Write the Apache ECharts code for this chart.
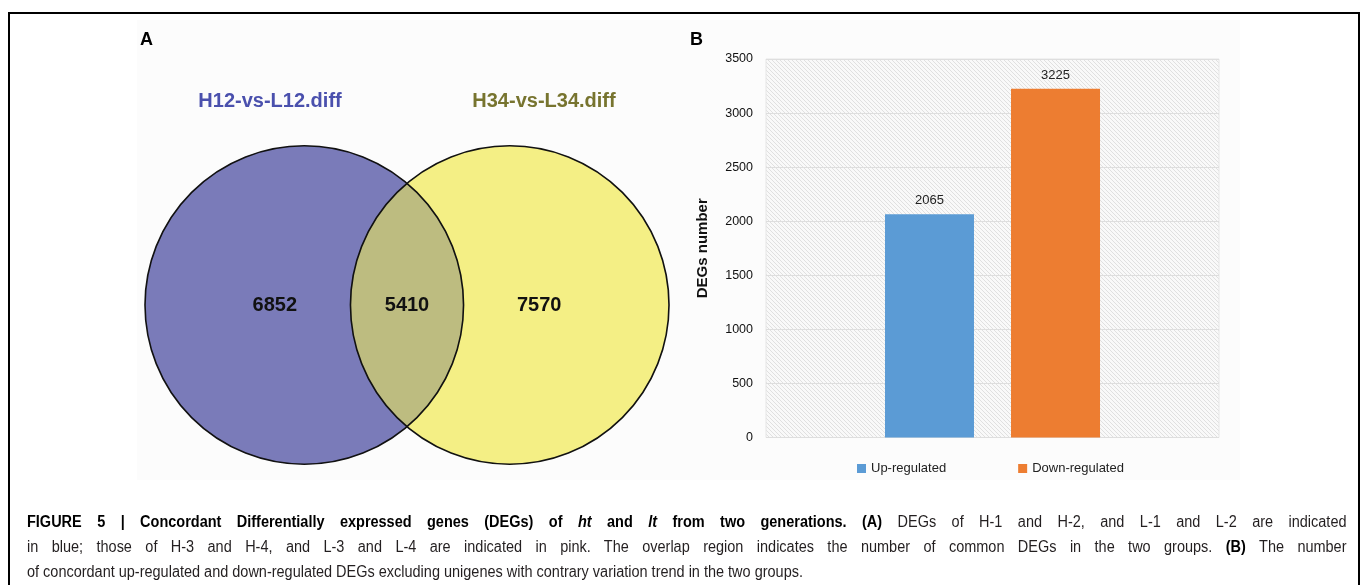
<!DOCTYPE html>
<html>
<head>
<meta charset="utf-8">
<script src="https://cdn.jsdelivr.net/npm/echarts@6/dist/echarts.min.js"></script>
<style>
  html, body { margin:0; padding:0; background:#fff; }
  #wrap { position:relative; width:1360px; height:585px; overflow:hidden; }
  #chart { position:absolute; left:0; top:0; width:1360px; height:585px; }
  #frame { position:absolute; left:8px; top:12px; width:1352px; height:620px; border:2px solid #000; box-sizing:border-box; pointer-events:none; }
  #cap { position:absolute; left:27px; top:509px; width:1458px; transform:scaleX(0.905); transform-origin:0 0; font-family:"Liberation Sans", Arial, Helvetica, sans-serif; font-size:16px; line-height:25px; color:#231f20; }
  #cap .l { white-space:nowrap; }
  #cap .j { text-align:justify; text-align-last:justify; }
  #cap b { font-weight:bold; color:#000; }
</style>
</head>
<body>
<div id="wrap">
  <div id="chart"></div>
  <div id="frame"></div>
  <div id="cap">
    <div class="l j"><b>FIGURE 5 | Concordant Differentially expressed genes (DEGs) of <i>ht</i> and <i>lt</i> from two generations. (A)</b> DEGs of H-1 and H-2, and L-1 and L-2 are indicated</div>
    <div class="l j">in blue; those of H-3 and H-4, and L-3 and L-4 are indicated in pink. The overlap region indicates the number of common DEGs in the two groups. <b>(B)</b> The number</div>
    <div class="l">of concordant up-regulated and down-regulated DEGs excluding unigenes with contrary variation trend in the two groups.</div>
  </div>
</div>
<script>
// ---- Data ----
const vennSetNames = ['H12-vs-L12.diff', 'H34-vs-L34.diff'];
const vennCounts = [6852, 5410, 7570]; // only set 1, both, only set 2

const barCategories = [''];
const barSeriesNames = ['Up-regulated', 'Down-regulated'];
const upValues = [2065];
const downValues = [3225];
const yTickMin = 0, yTickMax = 3500, yTickStep = 500;

// ---- Venn layout (unit-radius circles) ----
const centerDist = 1.29;
const countOffset = 0.83;
const nameOffset = 0.86;
const nameY = 1.285;

// hatch pattern for bar plot background
function hatch() {
  const c = document.createElement('canvas');
  const s = 4;
  c.width = s; c.height = s;
  const g = c.getContext('2d');
  g.fillStyle = '#f9f9f9';
  g.fillRect(0, 0, s, s);
  g.strokeStyle = '#e0e0e0';
  g.lineWidth = 1;
  g.beginPath();
  g.moveTo(-1, -1); g.lineTo(s + 1, s + 1);
  g.moveTo(-1, s - 1); g.lineTo(1, s + 1);
  g.moveTo(s - 1, -1); g.lineTo(s + 1, 1);
  g.stroke();
  return { image: c, repeat: 'repeat' };
}

const chart = echarts.init(document.getElementById('chart'), null, { renderer: 'canvas' });
const font = '"Liberation Sans", Arial, Helvetica, sans-serif';

function renderVenn(params, api) {
  const c1 = api.coord([-centerDist / 2, 0]);
  const c2 = api.coord([centerDist / 2, 0]);
  const r = api.size([1, 0])[0];
  const mx = (c1[0] + c2[0]) / 2;
  const a = (c2[0] - c1[0]) / 2;
  const h = Math.sqrt(Math.max(r * r - a * a, 0));
  const cy = c1[1];
  const lens = 'M' + mx + ' ' + (cy - h) +
    ' A' + r + ' ' + r + ' 0 0 1 ' + mx + ' ' + (cy + h) +
    ' A' + r + ' ' + r + ' 0 0 1 ' + mx + ' ' + (cy - h) + ' Z';
  const p1 = api.coord([-countOffset, 0]);
  const p0 = api.coord([0, 0]);
  const p2 = api.coord([countOffset, 0]);
  const n1 = api.coord([-nameOffset, nameY]);
  const n2 = api.coord([nameOffset, nameY]);
  const txt = (x, y, text, color) => ({
    type: 'text', x: x, y: y,
    style: { text: text, fill: color, font: 'bold 20px ' + font,
      textAlign: 'center', textVerticalAlign: 'middle', align: 'center', verticalAlign: 'middle' }
  });
  return {
    type: 'group',
    children: [
      { type: 'circle', shape: { cx: c1[0], cy: cy, r: r }, style: { fill: '#7a7bb9', stroke: null } },
      { type: 'circle', shape: { cx: c2[0], cy: cy, r: r }, style: { fill: '#f4ef85', stroke: null } },
      { type: 'path', shape: { pathData: lens }, style: { fill: '#bdbc80', stroke: null } },
      { type: 'circle', shape: { cx: c1[0], cy: cy, r: r }, style: { fill: 'none', stroke: '#111', lineWidth: 1.6 } },
      { type: 'circle', shape: { cx: c2[0], cy: cy, r: r }, style: { fill: 'none', stroke: '#111', lineWidth: 1.6 } },
      txt(p1[0], p1[1], String(vennCounts[0]), '#111'),
      txt(p0[0], p0[1], String(vennCounts[1]), '#111'),
      txt(p2[0], p2[1], String(vennCounts[2]), '#111'),
      txt(n1[0], n1[1], vennSetNames[0], '#4a50ad'),
      txt(n2[0], n2[1], vennSetNames[1], '#77742f')
    ]
  };
}

const option = {
  animation: false,
  backgroundColor: '#fff',
  textStyle: { fontFamily: font },
  graphic: [
    { type: 'rect', z: -10, shape: { x: 137, y: 20, width: 1103, height: 460 }, style: { fill: '#fcfcfc' } }
  ],
  title: [
    { text: 'A', left: 140, top: 31, padding: 0, textStyle: { fontSize: 18, fontWeight: 'bold', color: '#000', fontFamily: font } },
    { text: 'B', left: 690, top: 31, padding: 0, textStyle: { fontSize: 18, fontWeight: 'bold', color: '#000', fontFamily: font } }
  ],
  legend: {
    data: barSeriesNames,
    left: 852, top: 457,
    itemWidth: 9, itemHeight: 9, itemGap: 72,
    icon: 'rect',
    textStyle: { fontSize: 13, color: '#222', fontFamily: font }
  },
  grid: [
    { left: 766, right: 141, top: 59, bottom: 147.5, show: true, backgroundColor: hatch(), borderColor: '#e6e6e6', borderWidth: 1 },
    { left: 145, top: 147, width: 524, height: 316 }
  ],
  xAxis: [
    { type: 'category', gridIndex: 0, data: barCategories,
      axisLine: { show: false }, axisTick: { show: false }, axisLabel: { show: false } },
    { type: 'value', gridIndex: 1, min: -1 - centerDist / 2, max: 1 + centerDist / 2, show: false }
  ],
  yAxis: [
    { type: 'value', gridIndex: 0, min: yTickMin, max: yTickMax, interval: yTickStep,
      name: 'DEGs number', nameLocation: 'middle', nameGap: 56,
      nameTextStyle: { fontSize: 15, fontWeight: 'bold', color: '#111', fontFamily: font },
      axisLabel: { fontSize: 12.5, color: '#111', margin: 13, fontFamily: font, formatter: v => String(v) },
      axisLine: { show: false }, axisTick: { show: false },
      splitLine: { lineStyle: { color: '#dedede', width: 1 } } },
    { type: 'value', gridIndex: 1, min: -1, max: 1, show: false }
  ],
  series: [
    { type: 'bar', name: barSeriesNames[0], xAxisIndex: 0, yAxisIndex: 0, data: upValues,
      barWidth: 89, barGap: '41.6%', itemStyle: { color: '#5b9bd5' },
      label: { show: true, position: 'top', distance: 7, fontSize: 13, color: '#222', fontFamily: font } },
    { type: 'bar', name: barSeriesNames[1], xAxisIndex: 0, yAxisIndex: 0, data: downValues,
      barWidth: 89, barGap: '41.6%', itemStyle: { color: '#ed7d31' },
      label: { show: true, position: 'top', distance: 7, fontSize: 13, color: '#222', fontFamily: font } },
    { type: 'custom', name: 'venn', xAxisIndex: 1, yAxisIndex: 1, data: [[0, 0]],
      clip: false, silent: true, renderItem: renderVenn }
  ]
};
chart.setOption(option);
</script>
</body>
</html>
